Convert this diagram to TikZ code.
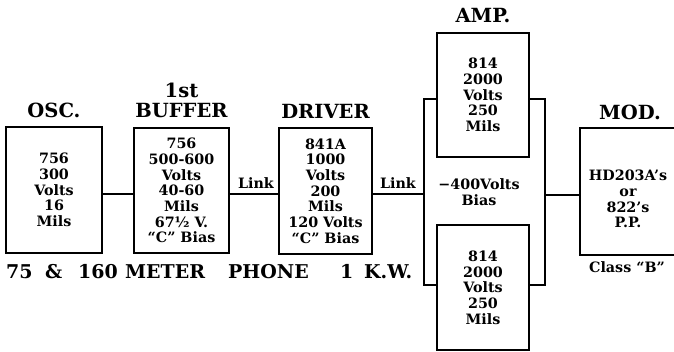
\documentclass[tikz,border=0pt]{standalone}
\usepackage{fontspec}
\setmainfont{DejaVu Serif}
\begin{document}
\begin{tikzpicture}[x=1pt,y=-1pt,
  box/.style={draw,line width=1.6pt,rectangle,inner sep=0pt,align=center,
    font=\bfseries\fontsize{14.3}{15.7}\selectfont},
  ttl/.style={font=\bfseries\fontsize{19.5}{21}\selectfont,inner sep=0pt},
  lbl/.style={font=\bfseries\fontsize{14.3}{15.7}\selectfont,inner sep=0pt,align=center},
  wire/.style={line width=1.6pt}]
\clip (0,0) rectangle (674,352);
\fill[white] (0,0) rectangle (674,352);
% boxes
\node[box,minimum width=96pt,minimum height=126pt] (osc) at (54,190) {756\\300\\Volts\\16\\Mils};
\node[box,minimum width=95pt,minimum height=125pt] (buf) at (181.5,190.5) {756\\500-600\\Volts\\40-60\\Mils\\67½ V.\\``C'' Bias};
\node[box,minimum width=93pt,minimum height=126pt] (drv) at (325.5,191) {841A\\1000\\Volts\\200\\Mils\\120 Volts\\``C'' Bias};
\node[box,minimum width=92pt,minimum height=124pt] (amp1) at (483,95) {814\\2000\\Volts\\250\\Mils};
\node[box,minimum width=92pt,minimum height=125pt] (amp2) at (483,287.5) {814\\2000\\Volts\\250\\Mils};
\node[box,minimum width=120pt,minimum height=127pt] (mod) at (640,191.5) {};
\node[lbl] (modt) at (628,199) {HD203A's\\or\\822's\\P.P.};
% titles
\node[ttl] (tosc) at (54,110) {OSC.};
\node[ttl] (t1st) at (181.5,90) {1st};
\node[ttl] (tbuf) at (181.5,111) {BUFFER};
\node[ttl] (tdrv) at (325.5,111) {DRIVER};
\node[ttl] (tamp) at (483,16) {AMP.};
\node[ttl] (tmod) at (630,112) {MOD.};
% bracket coordinates
\coordinate (bl) at (424,194);
\coordinate (br) at (545,195);
% connectors
\draw[wire] (osc.east |- 0,194) -- (buf.west |- 0,194);
\draw[wire] (buf.east |- 0,194) -- (drv.west |- 0,194);
\draw[wire] (drv.east |- 0,194) -- (bl);
\draw[wire] (amp1.west |- 0,99) -| (bl |- 0,285) -- (amp2.west |- 0,285);
\draw[wire] (amp1.east |- 0,99) -| (br |- 0,285) -- (amp2.east |- 0,285);
\draw[wire] (br) -- (mod.west |- br);
% labels
\node[lbl] (lk1) at (256,183) {Link};
\node[lbl] (lk2) at (398,183) {Link};
\node[lbl] (bias) at (479,192) {−400Volts\\Bias};
\node[lbl] (cls) at (627,267) {Class ``B''};
\node[ttl,anchor=west,font=\bfseries\fontsize{19}{21}\selectfont] (cap) at (6,272)
  {\rlap{75}\hspace{39pt}\rlap{\&}\hspace{33pt}\rlap{160}\hspace{47pt}\rlap{METER}\hspace{103pt}\rlap{PHONE}\hspace{112pt}\rlap{1}\hspace{24pt}K.W.};
\end{tikzpicture}
\end{document}
